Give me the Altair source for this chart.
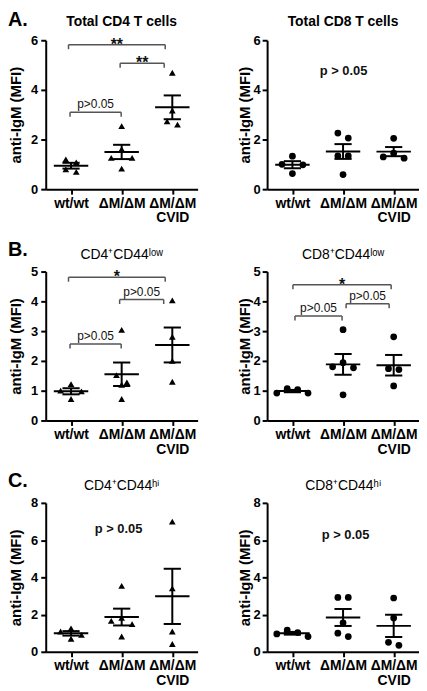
import altair as alt
import pandas as pd

# ---------------- data ----------------
GROUP_LABELS = ["wt/wt", "ΔM/ΔM", "ΔM/ΔM|CVID"]
GROUP_IDS = [1, 2, 3]
Y_TITLE = "anti-IgM (MFI)"
ROW_LETTERS = ["A.", "B.", "C."]
PANEL_TITLES = [["Total CD4 T cells", "Total CD8 T cells"],
                ["CD4⁺CD44ˡᵒʷ", "CD8⁺CD44ˡᵒʷ"],
                ["CD4⁺CD44ʰⁱ", "CD8⁺CD44ʰⁱ"]]
ROW_YMAX = [6, 5, 8]
ROW_YTICKS = [[0, 2, 4, 6], [0, 1, 2, 3, 4, 5], [0, 2, 4, 6, 8]]

# values per group: wt/wt, ΔM/ΔM, ΔM/ΔM CVID
cd4_total = [[1.08, 1.20, 0.70, 0.80],
             [2.54, 1.61, 1.26, 1.26, 0.83],
             [4.69, 3.17, 2.60, 2.73]]
cd8_total = [[1.00, 1.33, 0.63, 0.98],
             [2.06, 2.26, 1.34, 1.34, 0.59],
             [2.05, 1.45, 1.25, 1.30]]
cd4_low = [[1.22, 1.00, 0.98, 0.72],
           [3.04, 1.52, 1.28, 1.20, 0.72],
           [4.03, 2.81, 2.00, 1.30]]
cd8_low = [[1.04, 0.92, 0.92, 1.07],
           [3.05, 1.80, 1.94, 1.77, 0.86],
           [2.81, 1.74, 1.71, 1.16]]
cd4_hi = [[1.09, 1.26, 0.70, 0.91],
          [3.54, 1.66, 1.82, 1.49, 0.82],
          [6.99, 3.41, 1.09, 0.42]]
cd8_hi = [[1.03, 0.82, 0.96, 1.17],
          [2.92, 2.92, 1.56, 0.82, 1.00],
          [2.89, 1.82, 0.35, 0.51]]

# pairwise comparisons: (from group, to group, bracket level, label)
cmp_cd4_total = [(0.95, 2.86, 5.82, "**"), (1.97, 2.84, 5.07, "**"), (0.98, 1.99, 3.10, "p>0.05")]
cmp_cd8_total = []
cmp_cd4_low = [(0.95, 2.86, 4.81, "*"), (1.96, 2.83, 4.06, "p>0.05"), (0.98, 1.99, 2.57, "p>0.05")]
cmp_cd8_low = [(1.01, 2.95, 4.56, "*"), (1.05, 1.98, 3.51, "p>0.05"), (2.06, 2.91, 3.92, "p>0.05")]
cmp_cd4_hi = []
cmp_cd8_hi = []
# overall test notes: (group position, level, label)
note_cd4_total = []
note_cd8_total = [(2.01, 4.78, "p > 0.05")]
note_cd4_low = []
note_cd8_low = []
note_cd4_hi = [(1.94, 6.57, "p > 0.05")]
note_cd8_hi = [(2.05, 6.25, "p > 0.05")]

# ---------------- styling ----------------
FONT = "Liberation Sans"
W, H = 153, 150
BR_COLOR = "#555555"
HSP, VSP = 39, 15
LETTER_Y = [-14, -16, -16]

LABEL_EXPR = "split([" + ",".join("'" + s + "'" for s in GROUP_LABELS) + "][datum.value - 1], '|')"


def spread(vals, ymax, tol_px=9.0, step_px=10.5):
    """Prism-like horizontal scatter of points with similar values."""
    band_px = W / 3
    px = H / ymax
    order = sorted(range(len(vals)), key=lambda i: -vals[i])
    offs = [0.0] * len(vals)
    rows = []
    for i in order:
        if rows and (vals[rows[-1][0]] - vals[i]) * px < tol_px:
            rows[-1].append(i)
        else:
            rows.append([i])
    for r in rows:
        n = len(r)
        slots = [k - (n - 1) / 2 for k in range(n)]
        slots.sort(key=lambda s: (abs(s), s))
        for i, s in zip(r, slots):
            offs[i] = s * step_px / band_px
    return offs


def panel(groups, ymax, yticks, shape, title, title_bold, title_y, letter, letter_y,
          comps, notes, y_title_pad, y_label_pad):
    recs = []
    for gid, vals in zip(GROUP_IDS, groups):
        for v, o in zip(vals, spread(vals, ymax)):
            recs.append({"g": gid, "v": v, "xj": gid + o})
    df = pd.DataFrame(recs)

    xs = alt.Scale(domain=[0.5, 3.5], nice=False, zero=False)
    ys = alt.Scale(domain=[0, ymax], nice=False, zero=False)
    xa = alt.Axis(values=GROUP_IDS, labelExpr=LABEL_EXPR, title=None, grid=False,
                  tickSize=5, tickWidth=2, domainWidth=2, domainColor="black",
                  tickColor="black", labelColor="black", labelFont=FONT,
                  labelFontSize=14, labelFontWeight="bold", labelPadding=2,
                  labelLineHeight=15, labelFlush=False, labelOverlap=False)
    ya = alt.Axis(values=yticks, title=Y_TITLE, grid=False, tickSize=5, tickWidth=2,
                  domainWidth=2, domainColor="black", tickColor="black",
                  labelColor="black", labelFont=FONT, labelFontSize=13,
                  labelFontWeight="bold", labelPadding=y_label_pad,
                  titleFont=FONT, titleFontSize=15, titleFontWeight="bold",
                  titleColor="black", titlePadding=y_title_pad)

    def X(f):
        return alt.X(f, type="quantitative", scale=xs, axis=xa)

    def Y(f):
        return alt.Y(f, type="quantitative", scale=ys, axis=ya)

    pts = alt.Chart(df).mark_point(shape=shape, filled=True, size=46, color="black",
                                   opacity=1).encode(x=X("xj"), y=Y("v"))
    stats = alt.Chart(df).transform_aggregate(
        m="mean(v)", se="stderr(v)", groupby=["g"]
    ).transform_calculate(
        lo="datum.m - datum.se", hi="datum.m + datum.se",
        ml="datum.g - 0.34", mr="datum.g + 0.34",
        cl="datum.g - 0.17", cr="datum.g + 0.17",
    )
    mean_line = stats.mark_rule(strokeWidth=2, color="black").encode(
        x=X("ml"), x2="mr", y=Y("m"))
    sem_v = stats.mark_rule(strokeWidth=2, color="black").encode(
        x=X("g"), y=Y("lo"), y2="hi")
    cap_hi = stats.mark_rule(strokeWidth=2, color="black").encode(
        x=X("cl"), x2="cr", y=Y("hi"))
    cap_lo = stats.mark_rule(strokeWidth=2, color="black").encode(
        x=X("cl"), x2="cr", y=Y("lo"))
    layers = [pts, mean_line, sem_v, cap_hi, cap_lo]

    if comps:
        cdf = pd.DataFrame(comps, columns=["a", "b", "lev", "lab"])
        base = alt.Chart(cdf)
        layers.append(base.mark_rule(color=BR_COLOR, strokeWidth=1.5).encode(
            x=X("a"), x2="b", y=Y("lev")))
        layers.append(base.mark_rule(color=BR_COLOR, strokeWidth=1.5, y2Offset=4.5).encode(
            x=X("a"), y=Y("lev"), y2="lev"))
        layers.append(base.mark_rule(color=BR_COLOR, strokeWidth=1.5, y2Offset=4.5).encode(
            x=X("b"), y=Y("lev"), y2="lev"))
        layers.append(base.transform_filter("indexof(datum.lab, '*') >= 0").transform_calculate(
            mid="(datum.a + datum.b) / 2").mark_text(
            font=FONT, fontSize=16, fontWeight="bold", baseline="alphabetic", dy=5,
            color="#111111").encode(x=X("mid"), y=Y("lev"), text="lab:N"))
        layers.append(base.transform_filter("indexof(datum.lab, '*') < 0").transform_calculate(
            mid="(datum.a + datum.b) / 2").mark_text(
            font=FONT, fontSize=12, baseline="alphabetic", dy=-4,
            color="#111111").encode(x=X("mid"), y=Y("lev"), text="lab:N"))
    if notes:
        ndf = pd.DataFrame(notes, columns=["x", "y", "lab"])
        layers.append(alt.Chart(ndf).mark_text(
            font=FONT, fontSize=13, fontWeight="bold", baseline="middle",
            color="#111111").encode(x=X("x"), y=Y("y"), text="lab:N"))

    tdf = pd.DataFrame({"t": [title]})
    layers.append(alt.Chart(tdf).mark_text(
        font=FONT, fontSize=14, fontWeight="bold" if title_bold else "normal",
        baseline="alphabetic", align="center", color="black").encode(
        text="t:N", x=alt.value(W / 2), y=alt.value(title_y)))
    if letter:
        ldf = pd.DataFrame({"t": [letter]})
        layers.append(alt.Chart(ldf).mark_text(
            font=FONT, fontSize=20, fontWeight="bold", baseline="alphabetic",
            align="left", color="black").encode(
            text="t:N", x=alt.value(-38), y=alt.value(letter_y)))

    return alt.layer(*layers).properties(width=W, height=H)


row_data = [
    (cd4_total, cd8_total, cmp_cd4_total, cmp_cd8_total, note_cd4_total, note_cd8_total),
    (cd4_low, cd8_low, cmp_cd4_low, cmp_cd8_low, note_cd4_low, note_cd8_low),
    (cd4_hi, cd8_hi, cmp_cd4_hi, cmp_cd8_hi, note_cd4_hi, note_cd8_hi),
]

rows = []
for r, (d4, d8, c4, c8, n4, n8) in enumerate(row_data):
    bold = (r == 0)
    ty = -14 if r == 0 else -13
    left = panel(d4, ROW_YMAX[r], ROW_YTICKS[r], "triangle-up", PANEL_TITLES[r][0], bold, ty,
                 ROW_LETTERS[r], LETTER_Y[r], c4, n4, y_title_pad=7, y_label_pad=3)
    right = panel(d8, ROW_YMAX[r], ROW_YTICKS[r], "circle", PANEL_TITLES[r][1], bold, ty,
                  None, 0, c8, n8, y_title_pad=1, y_label_pad=2)
    rows.append(alt.hconcat(left, right, spacing=HSP))

chart = alt.vconcat(*rows, spacing=VSP).properties(padding=0).configure_view(stroke=None)

chart.save("out.html", embed_options={"renderer": "svg", "actions": False})
